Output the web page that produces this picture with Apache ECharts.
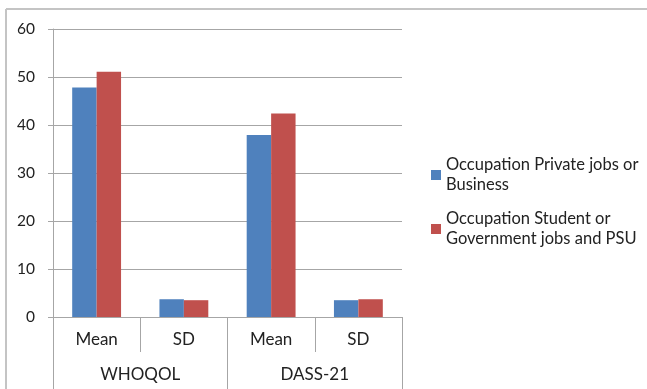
<!DOCTYPE html>
<html><head><meta charset="utf-8">
<script src="https://cdn.jsdelivr.net/npm/echarts@6/dist/echarts.min.js"></script>
<style>html,body{margin:0;padding:0;background:#fff}#c{width:647px;height:389px}</style>
</head><body><div id="c"></div>
<script>
var categories = ['Mean', 'SD', 'Mean', 'SD'];
var groups = ['WHOQOL', 'DASS-21'];
var seriesNames = ['Occupation Private jobs or\nBusiness', 'Occupation Student or\nGovernment jobs and PSU'];
var privateJobs = [47.8, 3.7, 37.9, 3.5];
var studentGov = [51.1, 3.5, 42.4, 3.7];
var yTicks = [0, 10, 20, 30, 40, 50, 60];

var FONT = 'Lato';
var chart = echarts.init(document.getElementById('c'));
chart.setOption({
  animation: false,
  textStyle: {fontFamily: FONT},
  grid: {left: 53, top: 29, width: 349, height: 288},
  graphic: [
    {type: 'line', shape: {x1: 6, y1: 9, x2: 647, y2: 9}, style: {stroke: '#c4c4c4', lineWidth: 2}},
    {type: 'line', shape: {x1: 6, y1: 9, x2: 6, y2: 389}, style: {stroke: '#c4c4c4', lineWidth: 2}}
  ],
  legend: {
    orient: 'vertical', left: 431, top: 145, padding: 0, itemWidth: 10, itemHeight: 10, itemGap: -6,
    icon: 'rect',
    textStyle: {fontFamily: FONT, fontSize: 16.5, color: '#222', lineHeight: 20, padding: [20, 0, 0, 0]},
    data: seriesNames
  },
  xAxis: [
    {type: 'category', data: categories, position: 'bottom',
     axisLine: {lineStyle: {color: '#a6a6a6'}},
     axisTick: {show: true, length: 35, lineStyle: {color: '#a6a6a6'}},
     axisLabel: {color: '#222', fontSize: 17, margin: 14, fontFamily: FONT}},
    {type: 'category', data: groups, position: 'bottom', offset: 35,
     axisLine: {show: true, lineStyle: {color: 'rgba(0,0,0,0)'}},
     axisTick: {show: true, length: 40, lineStyle: {color: '#a6a6a6'}},
     axisLabel: {color: '#222', fontSize: 17, margin: 14, fontFamily: FONT}}
  ],
  yAxis: {
    type: 'value', min: yTicks[0], max: yTicks[yTicks.length - 1], interval: 10,
    axisLine: {show: true, lineStyle: {color: '#a6a6a6'}},
    axisTick: {show: true, length: 5, lineStyle: {color: '#a6a6a6'}},
    splitLine: {lineStyle: {color: '#a6a6a6'}},
    axisLabel: {color: '#222', fontSize: 15.5, margin: 18, fontFamily: FONT}
  },
  series: [
    {name: seriesNames[0], type: 'bar', data: privateJobs, xAxisIndex: 0, barGap: '0%', barCategoryGap: '44%', itemStyle: {color: '#4F81BD'}},
    {name: seriesNames[1], type: 'bar', data: studentGov, xAxisIndex: 0, barGap: '0%', barCategoryGap: '44%', itemStyle: {color: '#C0504D'}}
  ]
});
</script></body></html>
